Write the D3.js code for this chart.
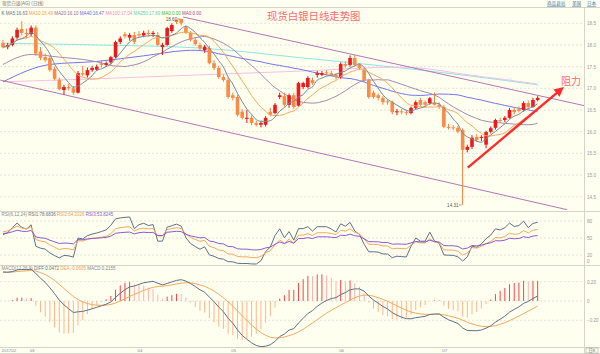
<!DOCTYPE html>
<html>
<head>
<meta charset="utf-8">
<script src="https://cdn.jsdelivr.net/npm/d3@7"></script>
<style>
  body { margin: 0; background: #fffff0; }
  svg { display: block; font-family: "Liberation Sans", "Noto Sans CJK SC", sans-serif; }
</style>
</head>
<body>
<div id="chart"></div>
<script>
// spot silver, daily bars 2017-02-21 .. 2017-07-31
const opens = [
  18.05,17.95,18.00,18.17,18.37,18.28,
  18.25,18.40,17.85,17.72,17.70,17.45,17.20,16.96,17.03,17.00,16.90,17.35,17.30,17.42,17.43,17.58,17.54,17.60,17.72,18.07,18.25,18.17,18.23,
  18.25,18.22,18.28,18.25,18.23,17.95,18.00,18.32,18.58,18.60,18.41,18.28,18.12,18.00,17.88,17.93,17.58,17.47,17.26,17.19,
  16.84,16.80,16.46,16.30,16.32,16.20,16.16,16.16,16.46,16.43,16.80,16.82,16.62,16.84,16.60,17.03,17.03,17.19,17.31,17.31,17.37,17.35,17.31,
  17.26,17.56,17.54,17.70,17.54,17.43,17.19,16.90,16.84,16.78,16.70,16.68,16.45,16.47,16.45,16.43,16.55,16.73,16.68,16.66,16.66,16.62,
  16.57,16.11,16.10,16.09,16.04,15.58,15.65,15.88,15.86,15.70,16.00,16.09,16.27,16.27,16.32,16.50,16.52,16.50,16.66,16.57,16.73
];
const highs = [
  18.12,18.05,18.20,18.40,18.55,18.38,
  18.45,18.45,17.95,17.80,17.75,17.50,17.25,17.08,17.10,17.05,17.40,17.52,17.48,17.52,17.55,17.65,17.62,17.75,18.10,18.20,18.30,18.28,18.30,
  18.32,18.33,18.35,18.32,18.30,18.05,18.42,18.50,18.58,18.60,18.45,18.32,18.18,18.05,18.00,17.98,17.65,17.52,17.32,17.25,
  16.90,16.85,16.52,16.50,16.38,16.25,16.25,16.36,16.55,16.66,16.90,16.90,16.88,16.90,17.15,17.15,17.28,17.25,17.40,17.40,17.42,17.40,17.35,
  17.60,17.62,17.76,17.78,17.58,17.48,17.22,16.95,16.88,16.82,16.75,16.72,16.52,16.52,16.50,16.58,16.72,16.78,16.72,16.80,16.90,16.68,
  16.62,16.18,16.15,16.14,16.08,15.70,15.92,15.95,15.92,16.02,16.12,16.30,16.32,16.36,16.55,16.56,16.58,16.70,16.72,16.78,16.82
];
const lows = [
  17.92,17.90,17.97,18.12,18.22,18.15,
  18.20,17.75,17.65,17.60,17.38,17.18,16.95,16.85,16.95,16.85,16.88,17.28,17.25,17.38,17.40,17.48,17.50,17.55,17.70,18.02,18.15,18.10,18.02,
  18.18,18.18,18.20,18.18,17.98,17.77,17.98,18.28,18.48,18.45,18.25,18.08,17.98,17.88,17.82,17.55,17.42,17.22,17.15,16.76,
  16.72,16.35,16.28,16.20,16.15,16.12,16.10,16.12,16.35,16.40,16.75,16.58,16.55,16.52,16.58,16.98,17.00,17.08,17.25,17.28,17.30,17.28,17.20,
  17.22,17.48,17.50,17.50,17.42,17.15,16.76,16.76,16.72,16.62,16.62,16.40,16.38,16.40,16.38,16.40,16.52,16.58,16.58,16.62,16.60,16.52,
  16.08,16.05,16.03,15.96,14.31,15.52,15.60,15.76,15.78,15.62,15.96,16.05,16.20,16.22,16.30,16.40,16.44,16.46,16.52,16.55,16.70
];
const closes = [
  17.95,18.00,18.15,18.35,18.28,18.25,
  18.40,17.80,17.70,17.65,17.42,17.22,16.98,17.03,17.00,16.90,17.35,17.32,17.42,17.47,17.50,17.54,17.58,17.72,18.07,18.15,18.20,18.23,18.07,
  18.22,18.28,18.25,18.28,18.00,18.00,18.39,18.46,18.53,18.50,18.28,18.12,18.02,17.92,17.96,17.58,17.47,17.26,17.19,16.80,
  16.78,16.39,16.32,16.32,16.20,16.16,16.20,16.32,16.39,16.62,16.84,16.62,16.84,16.57,17.12,17.12,17.24,17.12,17.35,17.35,17.35,17.31,17.26,
  17.56,17.52,17.70,17.54,17.47,17.19,16.80,16.80,16.78,16.68,16.68,16.45,16.47,16.45,16.43,16.55,16.68,16.62,16.62,16.77,16.62,16.57,
  16.11,16.09,16.08,16.00,15.58,15.65,15.86,15.81,15.88,15.99,16.08,16.27,16.25,16.32,16.50,16.45,16.48,16.66,16.57,16.73,16.78
];

// month ticks: [bar index, label]
const monthTicks = [[0, '201702'], [6, '03'], [29, '04'], [49, '05'], [72, '06'], [94, '07']];
const priceTicks = [18.5, 18.0, 17.5, 17.0, 16.5, 16.0, 15.5, 15.0, 14.5];
const rsiTicks = [80, 50, 20, 0];
const macdTicks = [0.2, 0, -0.2];

const ma20Head = [[0, 17.55], [6, 17.78], [12, 17.72]];
const ma40Head = [[0, 17.15], [10, 17.55], [20, 17.62], [30, 17.75]];
const ma100Pts = [[0, 17.15], [20, 17.22], [42, 17.31], [64, 17.40], [85, 17.49], [100, 17.30], [114, 17.10]];
const ma250Pts = [[0, 18.04], [20, 18.00], [42, 17.93], [64, 17.70], [85, 17.47], [100, 17.28], [114, 17.08]];

// indicator state at the first bar
const rsiStart = [56, 61, 58];
const macdStart = [0.30, 0.30]; // DIFF, DEA

// channel + trend annotations: [bar index, price]
const upperChannel = [[38.4, 18.645], [125.2, 16.57]];
const lowerChannel = [[-0.6, 17.19], [120.3, 14.20]];
const supportArrow = [[99.1, 15.17], [118.8, 16.96]];

const maLegend = [
  ['MA5:16.63', '#5f7186'], ['MA10:16.49', '#f0a050'], ['MA20:16.10', '#9a6aa8'], ['MA40:16.47', '#6a6af0'],
  ['MA100:17.04', '#f28cc8'], ['MA250:17.89', '#60d0b8'], ['MA0:0.00', '#3cb43c'], ['MA0:0.00', '#b04090']
];
const rsiLegend = [['RSI(6,12,24)', '#888'], ['RSI1:78.6836', '#5f7186'], ['RSI2:64.2026', '#f0a050'], ['RSI3:53.8245', '#8a5ad0']];
const macdLegend = [['MACD(12,26,9)', '#888'], ['DIFF:0.0472', '#5f7186'], ['DEA:-0.0605', '#f0a050'], ['MACD:0.2155', '#888']];

const W = 600, H = 354, axisX = 584;
const n = closes.length;

const x = d3.scaleLinear().domain([0, n - 1]).range([3, 3 + (n - 1) * 4.69]);
const yP = d3.scaleLinear().domain([14.5, 18.5]).range([196.7, 23.3]);
const yR = d3.scaleLinear().domain([20, 80]).range([255, 221]);
const yM = d3.scaleLinear().domain([-0.2, 0.2]).range([320.3, 281.7]);

// indicators
function sma(period) {
  const out = [];
  for (let i = period - 1; i < n; i++) {
    out.push([i, d3.mean(closes.slice(i - period + 1, i + 1))]);
  }
  return out;
}
// short averages: partial window at the very start
function smaShort(period) {
  return closes.map((c, i) => [i, d3.mean(closes.slice(Math.max(0, i - period + 1), i + 1))]);
}
function rsi(period, start) {
  let ab = 0.12, up = ab * start / 100;
  const out = [[0, start]];
  for (let i = 1; i < n; i++) {
    const d = closes[i] - closes[i - 1];
    up = (Math.max(d, 0) + (period - 1) * up) / period;
    ab = (Math.abs(d) + (period - 1) * ab) / period;
    out.push([i, ab ? up / ab * 100 : 50]);
  }
  return out;
}
let ema12 = closes[0] - 0.2, ema26 = ema12 - macdStart[0], dea = macdStart[1];
const diffs = [], deas = [], hist = [];
closes.forEach((c, i) => {
  if (i > 0) {
    ema12 = ema12 * 11 / 13 + c * 2 / 13;
    ema26 = ema26 * 25 / 27 + c * 2 / 27;
  }
  const diff = ema12 - ema26;
  if (i > 0) dea = dea * 8 / 10 + diff * 2 / 10;
  diffs.push([i, diff]);
  deas.push([i, dea]);
  hist.push(2 * (diff - dea));
});

const svg = d3.select('#chart').append('svg').attr('width', W).attr('height', H);
svg.append('rect').attr('width', W).attr('height', H).attr('fill', '#fffff0');

const defs = svg.append('defs');
defs.append('clipPath').attr('id', 'clipMain').append('rect').attr('x', 0).attr('y', 8).attr('width', axisX).attr('height', 202);
defs.append('clipPath').attr('id', 'clipRsi').append('rect').attr('x', 0).attr('y', 212).attr('width', axisX).attr('height', 53);
defs.append('clipPath').attr('id', 'clipMacd').append('rect').attr('x', 0).attr('y', 266).attr('width', axisX).attr('height', 81);
defs.append('marker').attr('id', 'arrow').attr('viewBox', '0 0 10 10').attr('refX', 5).attr('refY', 5)
  .attr('markerWidth', 4).attr('markerHeight', 4).attr('orient', 'auto')
  .append('path').attr('d', 'M0,0L10,5L0,10z').attr('fill', '#ff2a2a');

// frame lines
const frame = svg.append('g').attr('stroke', '#d4d4c8').attr('stroke-width', 1);
[7.5, 211.5, 265.5, 347.5, 353.5].forEach(y => frame.append('line').attr('x1', 0).attr('x2', W).attr('y1', y).attr('y2', y));
frame.append('line').attr('x1', axisX + 0.5).attr('x2', axisX + 0.5).attr('y1', 7).attr('y2', H);

// grid
const grid = svg.append('g').attr('stroke', '#dcdcd0').attr('stroke-dasharray', '2,2').attr('stroke-width', 0.8);
priceTicks.forEach(v => grid.append('line').attr('x1', 0).attr('x2', axisX).attr('y1', yP(v)).attr('y2', yP(v)));
[80, 50, 20].forEach(v => grid.append('line').attr('x1', 0).attr('x2', axisX).attr('y1', yR(v)).attr('y2', yR(v)));
macdTicks.forEach(v => grid.append('line').attr('x1', 0).attr('x2', axisX).attr('y1', yM(v)).attr('y2', yM(v)));

// header
svg.append('text').attr('x', 2).attr('y', 5.2).attr('font-size', 4.6).attr('fill', '#777').text('现货白银(AG) (日线)');
const links = svg.append('g').attr('font-size', 4.6).attr('fill', '#3a6ea5').attr('text-decoration', 'underline');
links.append('text').attr('x', 547).attr('y', 5.2).text('商品县站');
links.append('text').attr('x', 572).attr('y', 5.2).text('美国');
links.append('text').attr('x', 587).attr('y', 5.2).text('日本');

function legend(y, items, first) {
  const t = svg.append('text').attr('x', 1.5).attr('y', y).attr('font-size', 4.5);
  if (first) t.append('tspan').attr('fill', '#555').text(first + '  ');
  items.forEach(([s, c]) => t.append('tspan').attr('fill', c).text(s + ' '));
}
legend(14.5, maLegend, 'K');
legend(216, rsiLegend);
legend(270, macdLegend);

svg.append('text').attr('x', 267).attr('y', 20).attr('font-size', 10.4).attr('fill', '#ff6a6a')
  .attr('font-family', 'Noto Sans CJK SC').text('现货白银日线走势图');

// main panel
const main = svg.append('g').attr('clip-path', 'url(#clipMain)');
const lineP = d3.line().x(d => x(d[0])).y(d => yP(d[1]));
const smooth = d3.line().x(d => x(d[0])).y(d => yP(d[1])).curve(d3.curveMonotoneX);

main.append('path').attr('d', smooth(ma250Pts)).attr('fill', 'none').attr('stroke', '#8fe4e0').attr('stroke-width', 1);
main.append('path').attr('d', smooth(ma100Pts)).attr('fill', 'none').attr('stroke', '#f6bfe6').attr('stroke-width', 1);
main.append('path').attr('d', smooth(ma40Head.concat(sma(40)))).attr('fill', 'none').attr('stroke', '#7474ee').attr('stroke-width', 1);
main.append('path').attr('d', smooth(ma20Head.concat(sma(20)))).attr('fill', 'none').attr('stroke', '#a08ab4').attr('stroke-width', 1);

[upperChannel, lowerChannel].forEach(c =>
  main.append('path').attr('d', lineP(c)).attr('fill', 'none').attr('stroke', '#b676b6').attr('stroke-width', 1));

const bars = main.append('g').selectAll('g').data(closes).join('g');
bars.append('line')
  .attr('x1', (d, i) => x(i)).attr('x2', (d, i) => x(i))
  .attr('y1', (d, i) => yP(highs[i])).attr('y2', (d, i) => yP(lows[i]))
  .attr('stroke', (d, i) => d >= opens[i] ? '#e01010' : '#f58040').attr('stroke-width', 1);
bars.append('rect')
  .attr('x', (d, i) => x(i) - 1.8).attr('width', 3.6)
  .attr('y', (d, i) => yP(Math.max(d, opens[i])))
  .attr('height', (d, i) => Math.max(1, Math.abs(yP(d) - yP(opens[i]))))
  .attr('fill', (d, i) => d >= opens[i] ? '#f01818' : '#fa8a46');

main.append('path').attr('d', smooth(smaShort(10))).attr('fill', 'none').attr('stroke', '#f7a85c').attr('stroke-width', 1);
main.append('path').attr('d', smooth(smaShort(5))).attr('fill', 'none').attr('stroke', '#788898').attr('stroke-width', 1);

// high / low marks
const hiIdx = d3.maxIndex(highs), loIdx = d3.minIndex(lows);
svg.append('text').attr('x', x(hiIdx) - 4).attr('y', yP(highs[hiIdx]) + 1.6).attr('text-anchor', 'end')
  .attr('font-size', 4.6).attr('fill', '#555').text(highs[hiIdx].toFixed(2));
svg.append('line').attr('x1', x(hiIdx) - 3.5).attr('x2', x(hiIdx) - 1).attr('y1', yP(highs[hiIdx])).attr('y2', yP(highs[hiIdx]))
  .attr('stroke', '#555').attr('stroke-width', 0.6);
svg.append('text').attr('x', x(loIdx) - 4).attr('y', yP(lows[loIdx]) + 1.6).attr('text-anchor', 'end')
  .attr('font-size', 4.6).attr('fill', '#555').text(lows[loIdx].toFixed(2));
svg.append('line').attr('x1', x(loIdx) - 3.5).attr('x2', x(loIdx) - 1).attr('y1', yP(lows[loIdx])).attr('y2', yP(lows[loIdx]))
  .attr('stroke', '#555').attr('stroke-width', 0.6);

// support arrow + label
svg.append('path').attr('d', lineP(supportArrow)).attr('stroke', '#ff2a2a').attr('stroke-width', 2.4)
  .attr('fill', 'none').attr('marker-end', 'url(#arrow)');
svg.append('text').attr('x', 561).attr('y', 85).attr('font-size', 10).attr('fill', '#ff6a6a')
  .attr('font-family', 'Noto Sans CJK SC').text('阻力');

// RSI panel
const rsiG = svg.append('g').attr('clip-path', 'url(#clipRsi)');
const lineR = d3.line().x(d => x(d[0])).y(d => yR(d[1]));
[[6, '#5f7186'], [12, '#f7a85c'], [24, '#8a5ad0']].forEach(([p, c], k) =>
  rsiG.append('path').attr('d', lineR(rsi(p, rsiStart[k]))).attr('fill', 'none').attr('stroke', c).attr('stroke-width', 1));

// MACD panel
const macdG = svg.append('g').attr('clip-path', 'url(#clipMacd)');
macdG.append('g').selectAll('line').data(hist).join('line')
  .attr('x1', (d, i) => x(i)).attr('x2', (d, i) => x(i))
  .attr('y1', yM(0)).attr('y2', d => yM(d))
  .attr('stroke', (d, i) => d >= 0 ? (i > 0 && d < hist[i - 1] ? '#ffb0b0' : '#ff4040') : '#ffb48c')
  .attr('stroke-width', 1);
const lineM = d3.line().x(d => x(d[0])).y(d => yM(d[1]));
macdG.append('path').attr('d', lineM(deas)).attr('fill', 'none').attr('stroke', '#f7a85c').attr('stroke-width', 1);
macdG.append('path').attr('d', lineM(diffs)).attr('fill', 'none').attr('stroke', '#5f7186').attr('stroke-width', 1);

// right axes
function rightAxis(scale, ticks, fmt, shiftLast) {
  const g = svg.append('g').attr('transform', `translate(${axisX + 2},0)`)
    .call(d3.axisRight(scale).tickValues(ticks).tickSize(0).tickFormat(fmt));
  g.select('.domain').remove();
  g.selectAll('text').attr('font-size', 4.6).attr('fill', '#999').attr('x', 1);
  if (shiftLast) g.selectAll('.tick').filter(d => d === ticks[ticks.length - 1]).select('text').attr('dy', -3.5);
}
rightAxis(yP, priceTicks, d3.format('.1f'));
rightAxis(yR, rsiTicks, d3.format('d'), true);
rightAxis(yM, macdTicks, d => d === 0 ? '0' : d3.format('.2f')(d));

// x axis
svg.append('g').selectAll('text').data(monthTicks).join('text')
  .attr('x', d => x(d[0]) - 1.5).attr('y', 352).attr('font-size', 4.4).attr('fill', '#888').text(d => d[1]);
svg.append('rect').attr('x', 586).attr('y', 348).attr('width', 12).attr('height', 5)
  .attr('fill', 'none').attr('stroke', '#999').attr('stroke-width', 0.5);
svg.append('text').attr('x', 592).attr('y', 352.3).attr('text-anchor', 'middle').attr('font-size', 4.2).attr('fill', '#666').text('日K');
</script>
</body>
</html>
